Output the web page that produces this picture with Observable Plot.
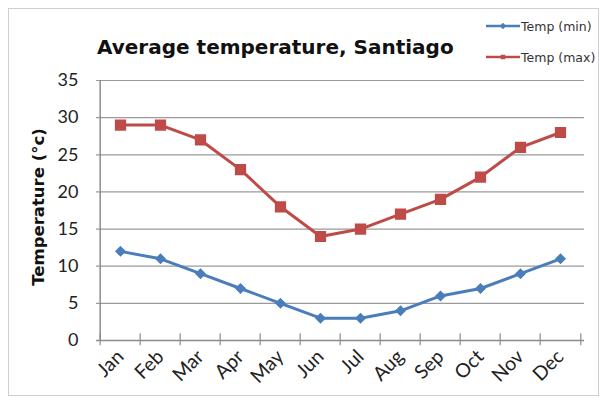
<!DOCTYPE html>
<html><head><meta charset="utf-8">
<script src="https://cdn.jsdelivr.net/npm/d3@7"></script>
<script src="https://cdn.jsdelivr.net/npm/@observablehq/plot@0.6"></script>
<style>
html,body{margin:0;padding:0;background:#fff;}
#wrap{position:relative;width:607px;height:406px;overflow:hidden;}
#frame{position:absolute;left:8px;top:8px;width:591px;height:388px;border:1px solid #cfcfcf;box-sizing:border-box;}
#title{position:absolute;left:97px;top:35px;font:bold 20px "DejaVu Sans",sans-serif;color:#111;white-space:nowrap;}
#legend{position:absolute;left:486px;top:18px;font:12.5px "DejaVu Sans",sans-serif;color:#333;}
#legend .row{display:flex;align-items:center;height:16px;}
#legend svg{margin-right:1px;}
#plot{position:absolute;left:0;top:0;}
</style></head>
<body><div id="wrap"><div id="frame"></div><div id="plot"></div><div id="title">Average temperature, Santiago</div><div id="legend"></div></div>
<script>
const months = ["Jan","Feb","Mar","Apr","May","Jun","Jul","Aug","Sep","Oct","Nov","Dec"];
const tempMin = [12, 11, 9, 7, 5, 3, 3, 4, 6, 7, 9, 11];
const tempMax = [29, 29, 27, 23, 18, 14, 15, 17, 19, 22, 26, 28];
const yTicks = [0, 5, 10, 15, 20, 25, 30, 35];
const seriesNames = ["Temp (min)", "Temp (max)"];
const seriesColors = ["#4a7ebb", "#be4b48"];
const seriesSymbols = ["diamond2", "square"];

const data = [];
months.forEach((m, i) => {
  data.push({month: m, value: tempMin[i], series: seriesNames[0]});
  data.push({month: m, value: tempMax[i], series: seriesNames[1]});
});

const W = 607, H = 406, ml = 96, mr = 23, mt = 80, mb = 66;
const step = (W - ml - mr) / months.length;

const chart = Plot.plot({
  width: W, height: H,
  marginLeft: ml, marginRight: mr, marginTop: mt, marginBottom: mb,
  style: {fontFamily: "Lato, 'Open Sans', sans-serif", fontSize: "17px", color: "#222", background: "transparent"},
  x: {type: "point", domain: months, padding: 0.5, label: null},
  y: {domain: [0, 35], label: null},
  color: {domain: seriesNames, range: seriesColors},
  symbol: {domain: seriesNames, range: seriesSymbols},
  marks: [
    Plot.ruleY(yTicks.filter(d => d > 0), {stroke: "#9a9a9a", strokeWidth: 1.2}),
    Plot.ruleY([0], {stroke: "#8c8c8c", strokeWidth: 1.5}),
    Plot.ruleX([months[0]], {dx: -step/2, y1: 0, y2: 35, stroke: "#8c8c8c", strokeWidth: 1.5}),
    Plot.ruleX(months, {x: d => d, dx: -step/2, y1: -0.7, y2: 0.9, stroke: "#8c8c8c", strokeWidth: 1.2}),
    Plot.ruleX([months[months.length-1]], {dx: step/2, y1: -0.7, y2: 0.9, stroke: "#8c8c8c", strokeWidth: 1.2}),
    Plot.axisY({ticks: yTicks, tickSize: 0, tickPadding: 18, label: null, fontSize: 18, fill: "#222"}),
    Plot.axisX({tickSize: 0, tickRotate: -45, tickPadding: 13, label: null, fontSize: 19.5, textAnchor: "end", fill: "#222"}),
    Plot.line(data, {x: "month", y: "value", stroke: "series", z: "series", strokeWidth: 3}),
    Plot.dot(data, {filter: d => d.series === seriesNames[0], x: "month", y: "value", fill: "series", stroke: "series", symbol: "series", r: 4}),
    Plot.dot(data, {filter: d => d.series === seriesNames[1], x: "month", y: "value", fill: "series", stroke: "series", symbol: "series", r: 5.5})
  ]
});
document.getElementById("plot").appendChild(chart);

// y-axis title
const svg = d3.select(chart);
svg.append("text")
  .attr("transform", `translate(44,${mt + (H - mt - mb)/2 - 3}) rotate(-90)`)
  .attr("text-anchor", "middle")
  .attr("font-family", "'DejaVu Sans', sans-serif")
  .attr("font-weight", "bold")
  .attr("font-size", 16.5)
  .attr("fill", "#111")
  .text("Temperature (°c)");

// legend
const legend = d3.select("#legend");
seriesNames.forEach((name, i) => {
  const row = legend.append("div").attr("class", "row").style("margin-bottom", i === 0 ? "15px" : "0");
  const s = row.append("svg").attr("width", 34).attr("height", 12);
  s.append("line").attr("x1", 0).attr("x2", 34).attr("y1", 6).attr("y2", 6).attr("stroke", seriesColors[i]).attr("stroke-width", 2.5);
  s.append("path").attr("transform", i === 0 ? "translate(17,6) rotate(45)" : "translate(17,6)")
    .attr("d", d3.symbol(d3.symbolSquare, 20)())
    .attr("fill", seriesColors[i]);
  row.append("span").text(name);
});
</script></body></html>
